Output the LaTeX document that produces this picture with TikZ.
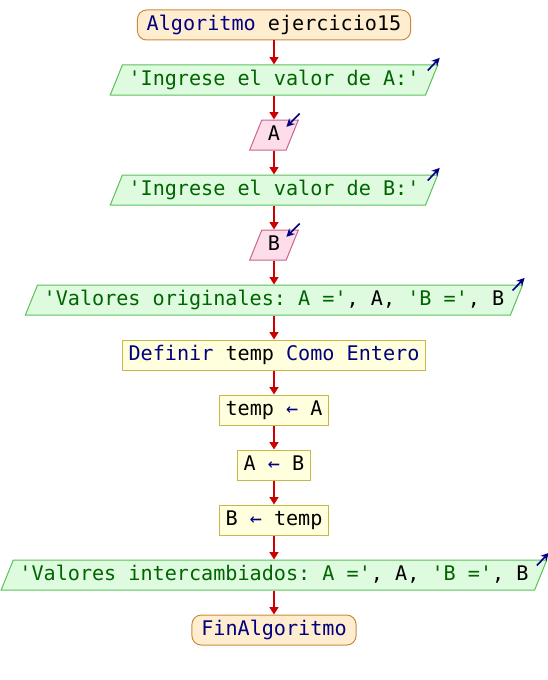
\documentclass[tikz,border=0pt]{standalone}
\usepackage{fontspec}
\setmonofont{DejaVu Sans Mono}
\usetikzlibrary{positioning,arrows.meta,shapes.geometric}
\definecolor{kwBlue}{HTML}{000080}
\definecolor{strGreen}{HTML}{006400}
\definecolor{flowRed}{HTML}{CC0000}
\definecolor{termFill}{HTML}{FFEDCF}
\definecolor{termLine}{HTML}{CC8A3C}
\definecolor{outFill}{HTML}{DFFBDF}
\definecolor{outLine}{HTML}{5CC05C}
\definecolor{inFill}{HTML}{FDDDEA}
\definecolor{inLine}{HTML}{C8648E}
\definecolor{procFill}{HTML}{FFFFDD}
\definecolor{procLine}{HTML}{C8B848}
\newcommand{\kwd}[1]{\textcolor{kwBlue}{#1}}
\newcommand{\strg}[1]{\textcolor{strGreen}{#1}}
\tikzset{arrowStyle/.style={
    -{Triangle[length=5.5pt,width=6.5pt]},
    line width=1.5pt,
    color=flowRed}
}
\tikzset{baseStyle/.style={
    font=\fontsize{15.1pt}{17pt}\selectfont\ttfamily,
    text height=11.2pt, text depth=3pt,
    inner ysep=4.15pt, line width=0.75pt}
}
\tikzset{termStyle/.style={baseStyle, rectangle, rounded corners=7pt,
    draw=termLine, fill=termFill, inner xsep=7pt}}
\tikzset{procStyle/.style={baseStyle, rectangle,
    draw=procLine, fill=procFill, inner xsep=4.6pt}}
\tikzset{outStyle/.style={baseStyle, trapezium, trapezium left angle=68,
    trapezium right angle=112, draw=outLine, fill=outFill, inner xsep=4.6pt}}
\tikzset{inStyle/.style={baseStyle, trapezium, trapezium left angle=68,
    trapezium right angle=112, draw=inLine, fill=inFill, inner xsep=4.6pt}}
\tikzset{iconStyle/.style={-{Stealth[length=6pt,width=6pt]},
    line width=1.2pt, color=kwBlue}}

\begin{document}
\begin{tikzpicture}[node distance=18pt]
      \useasboundingbox (0,0) rectangle (411pt,-510pt);

      \node[termStyle] (inicio) at (205.5pt,-18.75pt)
      {\kwd{Algoritmo} ejercicio15};
      \node[outStyle, below=of inicio] (outA)
      {\strg{'Ingrese el valor de A:'}};
      \node[inStyle, below=of outA] (leerA) {A};
      \node[outStyle, below=of leerA] (outB)
      {\strg{'Ingrese el valor de B:'}};
      \node[inStyle, below=of outB] (leerB) {B};
      \node[outStyle, below=of leerB] (outOrig)
      {\strg{'Valores originales: A ='}, A, \strg{'B ='}, B};
      \node[procStyle, below=of outOrig] (definir)
      {\kwd{Definir} temp \kwd{Como} \kwd{Entero}};
      \node[procStyle, below=of definir] (asig1)
      {temp \kwd{←} A};
      \node[procStyle, below=of asig1] (asig2)
      {A \kwd{←} B};
      \node[procStyle, below=of asig2] (asig3)
      {B \kwd{←} temp};
      \node[outStyle, below=of asig3] (outInter)
      {\strg{'Valores intercambiados: A ='}, A, \strg{'B ='}, B};
      \node[termStyle, below=of outInter] (fin)
      {\kwd{FinAlgoritmo}};

      % flechas del flujo
      \foreach \a/\b in {inicio/outA, outA/leerA, leerA/outB, outB/leerB,
          leerB/outOrig, outOrig/definir, definir/asig1, asig1/asig2,
          asig2/asig3, asig3/outInter, outInter/fin}
      {
        \draw[arrowStyle] (\a.south) -- (\b.north);
      }

      % iconos de salida
      \foreach \o in {outA, outB, outOrig, outInter}
      {
        \draw[iconStyle] ([shift={(-8pt,-4.5pt)}]\o.top right corner)
        -- ++(9pt,9.5pt);
      }
      % iconos de entrada
      \foreach \i in {leerA, leerB}
      {
        \draw[iconStyle] ([shift={(0.5pt,4.5pt)}]\i.top right corner)
        -- ++(-10pt,-10pt);
      }
\end{tikzpicture}
\end{document}
